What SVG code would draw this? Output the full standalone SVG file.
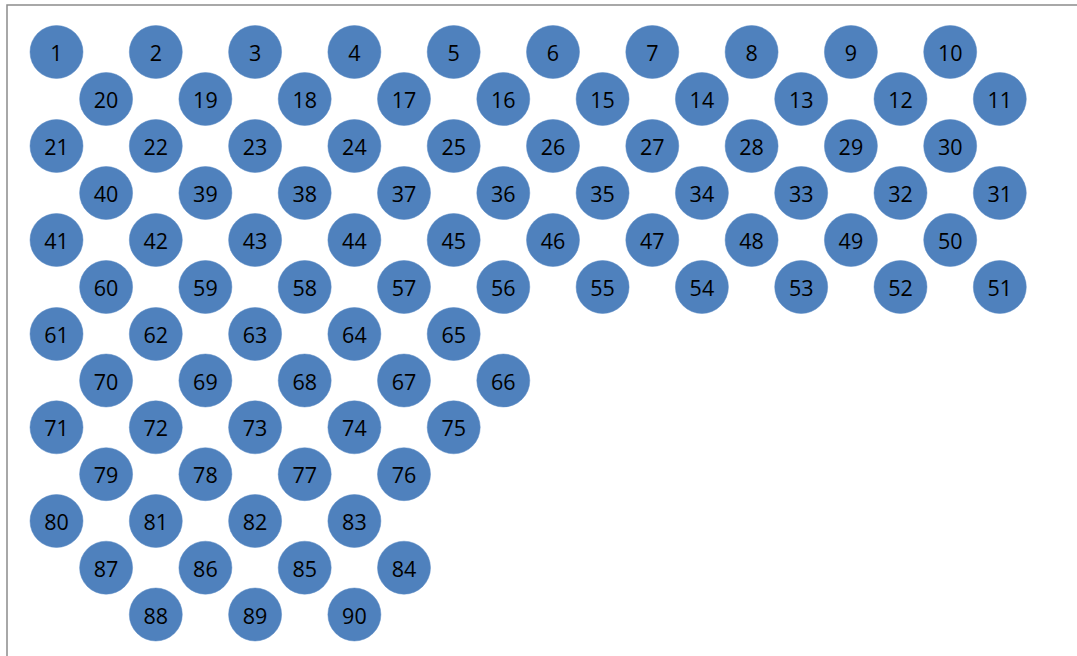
<svg xmlns="http://www.w3.org/2000/svg" width="1077" height="656" viewBox="0 0 1077 656">
<style>
.n circle{fill:#4F81BD;stroke:#5a8ac4;stroke-width:0.5}
.n text{font-family:"Open Sans","Liberation Sans",sans-serif;font-size:21.5px;fill:#000;text-anchor:middle}
</style>
<rect x="0" y="0" width="1077" height="656" fill="#fff"/>
<rect x="7" y="5" width="1090" height="680" fill="none" stroke="#8c8c8c" stroke-width="1.5"/>
<g id="connectors"></g>
<g id="nodes">
<g id="n1" class="n"><circle cx="56.5" cy="52" r="26.5"/><text x="56.5" y="61">1</text></g>
<g id="n2" class="n"><circle cx="155.8" cy="52" r="26.5"/><text x="155.8" y="61">2</text></g>
<g id="n3" class="n"><circle cx="255.1" cy="52" r="26.5"/><text x="255.1" y="61">3</text></g>
<g id="n4" class="n"><circle cx="354.4" cy="52" r="26.5"/><text x="354.4" y="61">4</text></g>
<g id="n5" class="n"><circle cx="453.7" cy="52" r="26.5"/><text x="453.7" y="61">5</text></g>
<g id="n6" class="n"><circle cx="553" cy="52" r="26.5"/><text x="553" y="61">6</text></g>
<g id="n7" class="n"><circle cx="652.3" cy="52" r="26.5"/><text x="652.3" y="61">7</text></g>
<g id="n8" class="n"><circle cx="751.6" cy="52" r="26.5"/><text x="751.6" y="61">8</text></g>
<g id="n9" class="n"><circle cx="850.9" cy="52" r="26.5"/><text x="850.9" y="61">9</text></g>
<g id="n10" class="n"><circle cx="950.2" cy="52" r="26.5"/><text x="950.2" y="61">10</text></g>
<g id="n20" class="n"><circle cx="106.1" cy="99" r="26.5"/><text x="106.1" y="108">20</text></g>
<g id="n19" class="n"><circle cx="205.4" cy="99" r="26.5"/><text x="205.4" y="108">19</text></g>
<g id="n18" class="n"><circle cx="304.7" cy="99" r="26.5"/><text x="304.7" y="108">18</text></g>
<g id="n17" class="n"><circle cx="404" cy="99" r="26.5"/><text x="404" y="108">17</text></g>
<g id="n16" class="n"><circle cx="503.3" cy="99" r="26.5"/><text x="503.3" y="108">16</text></g>
<g id="n15" class="n"><circle cx="602.6" cy="99" r="26.5"/><text x="602.6" y="108">15</text></g>
<g id="n14" class="n"><circle cx="701.9" cy="99" r="26.5"/><text x="701.9" y="108">14</text></g>
<g id="n13" class="n"><circle cx="801.2" cy="99" r="26.5"/><text x="801.2" y="108">13</text></g>
<g id="n12" class="n"><circle cx="900.5" cy="99" r="26.5"/><text x="900.5" y="108">12</text></g>
<g id="n11" class="n"><circle cx="999.8" cy="99" r="26.5"/><text x="999.8" y="108">11</text></g>
<g id="n21" class="n"><circle cx="56.5" cy="146" r="26.5"/><text x="56.5" y="155">21</text></g>
<g id="n22" class="n"><circle cx="155.8" cy="146" r="26.5"/><text x="155.8" y="155">22</text></g>
<g id="n23" class="n"><circle cx="255.1" cy="146" r="26.5"/><text x="255.1" y="155">23</text></g>
<g id="n24" class="n"><circle cx="354.4" cy="146" r="26.5"/><text x="354.4" y="155">24</text></g>
<g id="n25" class="n"><circle cx="453.7" cy="146" r="26.5"/><text x="453.7" y="155">25</text></g>
<g id="n26" class="n"><circle cx="553" cy="146" r="26.5"/><text x="553" y="155">26</text></g>
<g id="n27" class="n"><circle cx="652.3" cy="146" r="26.5"/><text x="652.3" y="155">27</text></g>
<g id="n28" class="n"><circle cx="751.6" cy="146" r="26.5"/><text x="751.6" y="155">28</text></g>
<g id="n29" class="n"><circle cx="850.9" cy="146" r="26.5"/><text x="850.9" y="155">29</text></g>
<g id="n30" class="n"><circle cx="950.2" cy="146" r="26.5"/><text x="950.2" y="155">30</text></g>
<g id="n40" class="n"><circle cx="106.1" cy="193" r="26.5"/><text x="106.1" y="202">40</text></g>
<g id="n39" class="n"><circle cx="205.4" cy="193" r="26.5"/><text x="205.4" y="202">39</text></g>
<g id="n38" class="n"><circle cx="304.7" cy="193" r="26.5"/><text x="304.7" y="202">38</text></g>
<g id="n37" class="n"><circle cx="404" cy="193" r="26.5"/><text x="404" y="202">37</text></g>
<g id="n36" class="n"><circle cx="503.3" cy="193" r="26.5"/><text x="503.3" y="202">36</text></g>
<g id="n35" class="n"><circle cx="602.6" cy="193" r="26.5"/><text x="602.6" y="202">35</text></g>
<g id="n34" class="n"><circle cx="701.9" cy="193" r="26.5"/><text x="701.9" y="202">34</text></g>
<g id="n33" class="n"><circle cx="801.2" cy="193" r="26.5"/><text x="801.2" y="202">33</text></g>
<g id="n32" class="n"><circle cx="900.5" cy="193" r="26.5"/><text x="900.5" y="202">32</text></g>
<g id="n31" class="n"><circle cx="999.8" cy="193" r="26.5"/><text x="999.8" y="202">31</text></g>
<g id="n41" class="n"><circle cx="56.5" cy="240" r="26.5"/><text x="56.5" y="249">41</text></g>
<g id="n42" class="n"><circle cx="155.8" cy="240" r="26.5"/><text x="155.8" y="249">42</text></g>
<g id="n43" class="n"><circle cx="255.1" cy="240" r="26.5"/><text x="255.1" y="249">43</text></g>
<g id="n44" class="n"><circle cx="354.4" cy="240" r="26.5"/><text x="354.4" y="249">44</text></g>
<g id="n45" class="n"><circle cx="453.7" cy="240" r="26.5"/><text x="453.7" y="249">45</text></g>
<g id="n46" class="n"><circle cx="553" cy="240" r="26.5"/><text x="553" y="249">46</text></g>
<g id="n47" class="n"><circle cx="652.3" cy="240" r="26.5"/><text x="652.3" y="249">47</text></g>
<g id="n48" class="n"><circle cx="751.6" cy="240" r="26.5"/><text x="751.6" y="249">48</text></g>
<g id="n49" class="n"><circle cx="850.9" cy="240" r="26.5"/><text x="850.9" y="249">49</text></g>
<g id="n50" class="n"><circle cx="950.2" cy="240" r="26.5"/><text x="950.2" y="249">50</text></g>
<g id="n60" class="n"><circle cx="106.1" cy="287" r="26.5"/><text x="106.1" y="296">60</text></g>
<g id="n59" class="n"><circle cx="205.4" cy="287" r="26.5"/><text x="205.4" y="296">59</text></g>
<g id="n58" class="n"><circle cx="304.7" cy="287" r="26.5"/><text x="304.7" y="296">58</text></g>
<g id="n57" class="n"><circle cx="404" cy="287" r="26.5"/><text x="404" y="296">57</text></g>
<g id="n56" class="n"><circle cx="503.3" cy="287" r="26.5"/><text x="503.3" y="296">56</text></g>
<g id="n55" class="n"><circle cx="602.6" cy="287" r="26.5"/><text x="602.6" y="296">55</text></g>
<g id="n54" class="n"><circle cx="701.9" cy="287" r="26.5"/><text x="701.9" y="296">54</text></g>
<g id="n53" class="n"><circle cx="801.2" cy="287" r="26.5"/><text x="801.2" y="296">53</text></g>
<g id="n52" class="n"><circle cx="900.5" cy="287" r="26.5"/><text x="900.5" y="296">52</text></g>
<g id="n51" class="n"><circle cx="999.8" cy="287" r="26.5"/><text x="999.8" y="296">51</text></g>
<g id="n61" class="n"><circle cx="56.5" cy="334" r="26.5"/><text x="56.5" y="343">61</text></g>
<g id="n62" class="n"><circle cx="155.8" cy="334" r="26.5"/><text x="155.8" y="343">62</text></g>
<g id="n63" class="n"><circle cx="255.1" cy="334" r="26.5"/><text x="255.1" y="343">63</text></g>
<g id="n64" class="n"><circle cx="354.4" cy="334" r="26.5"/><text x="354.4" y="343">64</text></g>
<g id="n65" class="n"><circle cx="453.7" cy="334" r="26.5"/><text x="453.7" y="343">65</text></g>
<g id="n70" class="n"><circle cx="106.1" cy="380.5" r="26.5"/><text x="106.1" y="389.5">70</text></g>
<g id="n69" class="n"><circle cx="205.4" cy="380.5" r="26.5"/><text x="205.4" y="389.5">69</text></g>
<g id="n68" class="n"><circle cx="304.7" cy="380.5" r="26.5"/><text x="304.7" y="389.5">68</text></g>
<g id="n67" class="n"><circle cx="404" cy="380.5" r="26.5"/><text x="404" y="389.5">67</text></g>
<g id="n66" class="n"><circle cx="503.3" cy="380.5" r="26.5"/><text x="503.3" y="389.5">66</text></g>
<g id="n71" class="n"><circle cx="56.5" cy="427.3" r="26.5"/><text x="56.5" y="436.3">71</text></g>
<g id="n72" class="n"><circle cx="155.8" cy="427.3" r="26.5"/><text x="155.8" y="436.3">72</text></g>
<g id="n73" class="n"><circle cx="255.1" cy="427.3" r="26.5"/><text x="255.1" y="436.3">73</text></g>
<g id="n74" class="n"><circle cx="354.4" cy="427.3" r="26.5"/><text x="354.4" y="436.3">74</text></g>
<g id="n75" class="n"><circle cx="453.7" cy="427.3" r="26.5"/><text x="453.7" y="436.3">75</text></g>
<g id="n79" class="n"><circle cx="106.1" cy="474.2" r="26.5"/><text x="106.1" y="483.2">79</text></g>
<g id="n78" class="n"><circle cx="205.4" cy="474.2" r="26.5"/><text x="205.4" y="483.2">78</text></g>
<g id="n77" class="n"><circle cx="304.7" cy="474.2" r="26.5"/><text x="304.7" y="483.2">77</text></g>
<g id="n76" class="n"><circle cx="404" cy="474.2" r="26.5"/><text x="404" y="483.2">76</text></g>
<g id="n80" class="n"><circle cx="56.5" cy="521" r="26.5"/><text x="56.5" y="530">80</text></g>
<g id="n81" class="n"><circle cx="155.8" cy="521" r="26.5"/><text x="155.8" y="530">81</text></g>
<g id="n82" class="n"><circle cx="255.1" cy="521" r="26.5"/><text x="255.1" y="530">82</text></g>
<g id="n83" class="n"><circle cx="354.4" cy="521" r="26.5"/><text x="354.4" y="530">83</text></g>
<g id="n87" class="n"><circle cx="106.1" cy="567.7" r="26.5"/><text x="106.1" y="576.7">87</text></g>
<g id="n86" class="n"><circle cx="205.4" cy="567.7" r="26.5"/><text x="205.4" y="576.7">86</text></g>
<g id="n85" class="n"><circle cx="304.7" cy="567.7" r="26.5"/><text x="304.7" y="576.7">85</text></g>
<g id="n84" class="n"><circle cx="404" cy="567.7" r="26.5"/><text x="404" y="576.7">84</text></g>
<g id="n88" class="n"><circle cx="155.8" cy="614.5" r="26.5"/><text x="155.8" y="623.5">88</text></g>
<g id="n89" class="n"><circle cx="255.1" cy="614.5" r="26.5"/><text x="255.1" y="623.5">89</text></g>
<g id="n90" class="n"><circle cx="354.4" cy="614.5" r="26.5"/><text x="354.4" y="623.5">90</text></g>
</g>
</svg>
